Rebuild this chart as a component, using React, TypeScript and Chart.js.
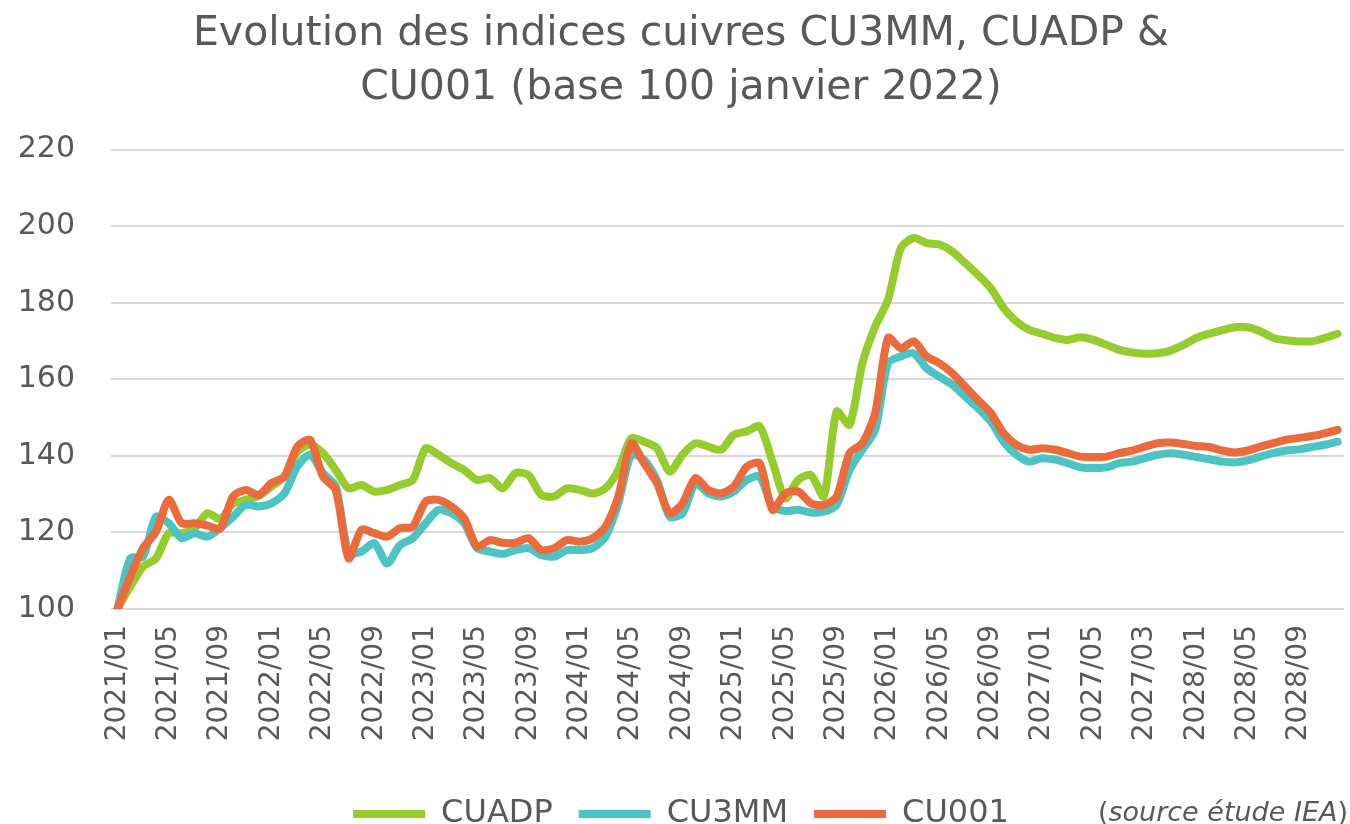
import React, { useEffect, useRef } from "react";
import { Chart, registerables } from "chart.js";

Chart.register(...registerables);

const MONTHS: string[] = [
  "2021/01", "2021/02", "2021/03", "2021/04", "2021/05", "2021/06", "2021/07", "2021/08", "2021/09", "2021/10", "2021/11", "2021/12",
  "2022/01", "2022/02", "2022/03", "2022/04", "2022/05", "2022/06", "2022/07", "2022/08", "2022/09", "2022/10", "2022/11", "2022/12",
  "2023/01", "2023/02", "2023/03", "2023/04", "2023/05", "2023/06", "2023/07", "2023/08", "2023/09", "2023/10", "2023/11", "2023/12",
  "2024/01", "2024/02", "2024/03", "2024/04", "2024/05", "2024/06", "2024/07", "2024/08", "2024/09", "2024/10", "2024/11", "2024/12",
  "2025/01", "2025/02", "2025/03", "2025/04", "2025/05", "2025/06", "2025/07", "2025/08", "2025/09", "2025/10", "2025/11", "2025/12",
  "2026/01", "2026/02", "2026/03", "2026/04", "2026/05", "2026/06", "2026/07", "2026/08", "2026/09", "2026/10", "2026/11", "2026/12",
  "2027/01", "2027/02", "2027/03", "2027/04", "2027/05", "2027/06", "2027/07", "2027/08", "2027/09", "2027/10", "2027/11", "2027/12",
  "2028/01", "2028/02", "2028/03", "2028/04", "2028/05", "2028/06", "2028/07", "2028/08", "2028/09", "2028/10", "2028/11", "2028/12",
];

// Tick labels shown every 4 months, as printed on the reference
const TICK_LABELS: string[] = [
  "2021/01", "2021/05", "2021/09", "2022/01", "2022/05", "2022/09", "2023/01", "2023/05",
  "2023/09", "2024/01", "2024/05", "2024/09", "2025/01", "2025/05", "2025/09", "2026/01",
  "2026/05", "2026/09", "2027/01", "2027/05", "2027/03", "2028/01", "2028/05", "2028/09",
];

const CUADP: number[] = [
  100, 105.8, 111.1, 113.2, 119.8, 119.8, 121.1, 125, 123.5, 127.5, 128.5, 129.5,
  132, 134.5, 141, 143, 140.7, 136.3, 131.5, 132.4, 130.7, 131.1, 132.4, 133.7,
  142, 140.3, 138.1, 136.3, 133.7, 134.2, 131.5, 135.5, 135, 129.8, 129.4, 131.5,
  131.1, 130.2, 131.5, 136.3, 144.6, 143.7, 142, 135.9, 140.3, 143.3, 142.4, 141.6,
  145.5, 146.4, 147.7, 138.5, 128.9, 133.7, 135, 129.4, 151.6, 148.1, 164.2, 173.8,
  180.8, 194.3, 196.9, 195.6, 195.2, 193.4, 190.4, 187.3, 183.8, 178.6, 175.1, 172.9,
  171.9, 170.8, 170.3, 171, 170.3, 169, 167.7, 167, 166.7, 166.8, 167.5, 169,
  170.8, 171.9, 172.8, 173.6, 173.6, 172.5, 170.8, 170.2, 169.9, 169.9, 170.8, 171.9,
];

const CU3MM: number[] = [
  100, 113.2, 113.7, 124.1, 122.4, 118.5, 119.8, 118.9, 121.1, 124.1, 127.2, 126.8,
  127.6, 130.2, 137.2, 140.3, 135.5, 132, 114.6, 115, 117.2, 111.9, 116.7, 118.5,
  122.4, 125.9, 125, 122.4, 115.9, 115, 114.4, 115.4, 115.9, 114.1, 113.7, 115.4,
  115.4, 115.9, 118.9, 127.6, 140.3, 139, 133.7, 124.1, 125, 132.9, 130.2, 129.4,
  130.7, 133.7, 134.6, 126.8, 125.6, 125.9, 125.2, 125.4, 127.2, 136.3, 141.6, 146.8,
  164.2, 166, 166.8, 162.9, 160.7, 158.6, 155.5, 152.5, 149, 143.7, 140.3, 138.5,
  139.4, 139, 138.1, 137, 136.8, 137, 138.1, 138.5, 139.4, 140.3, 140.7, 140.3,
  139.7, 139.1, 138.5, 138.3, 138.8, 139.8, 140.7, 141.4, 141.7, 142.3, 142.9, 143.7,
];

const CU001: number[] = [
  100, 108.4, 115.9, 120.2, 128.5, 122.4, 122.4, 121.8, 121, 129.4, 131.1, 129.8,
  132.9, 134.6, 142.4, 144.2, 134.6, 131.1, 113.2, 120.7, 119.8, 118.9, 121.1, 121.5,
  128.1, 128.5, 126.8, 123.7, 116.3, 118, 117.3, 117.3, 118.5, 115.4, 115.9, 118,
  117.6, 118.5, 121.5, 129.4, 143.3, 138.1, 132.9, 125, 127.6, 134.2, 131.1, 130.2,
  132, 137.2, 138.1, 125.9, 130.2, 130.7, 127.6, 127.2, 129.4, 140.7, 143.3, 151.2,
  170.8, 168.1, 169.9, 166, 164.2, 161.6, 158.1, 154.6, 151.2, 145.9, 142.9, 141.6,
  142, 141.6, 140.7, 139.8, 139.7, 139.8, 140.7, 141.4, 142.4, 143.3, 143.5, 143.1,
  142.6, 142.3, 141.4, 140.9, 141.4, 142.4, 143.3, 144.2, 144.7, 145.2, 145.9, 146.8,
];

const TITLE_LINES: string[] = ["Evolution des indices cuivres CU3MM, CUADP &", "CU001 (base 100 janvier 2022)"];
const SOURCE_TEXT = "source étude IEA";

const GREEN = "#95CC2E";
const TEAL = "#4BC4C3";
const ORANGE = "#EC6B3C";
const TEXT = "#595959";
const FONT = "'DejaVu Sans', sans-serif";

export default function App() {
  const ref = useRef<HTMLCanvasElement | null>(null);

  useEffect(() => {
    const canvas = ref.current;
    if (!canvas) return;
    const chart = new Chart(canvas, {
      type: "line",
      data: {
        labels: MONTHS,
        datasets: [
          { label: "CUADP", data: CUADP, borderColor: GREEN, backgroundColor: GREEN, order: 3 },
          { label: "CU3MM", data: CU3MM, borderColor: TEAL, backgroundColor: TEAL, order: 2 },
          { label: "CU001", data: CU001, borderColor: ORANGE, backgroundColor: ORANGE, order: 1 },
        ],
      },
      options: {
        responsive: false,
        animation: false,
        events: [],
        layout: { padding: { left: 18, right: 6, top: 0, bottom: -16 } },
        elements: {
          line: { borderWidth: 8, tension: 0.25, fill: false, borderCapStyle: "round", borderJoinStyle: "round" },
          point: { radius: 0, hoverRadius: 0 },
        },
        plugins: {
          title: {
            display: true,
            text: TITLE_LINES,
            color: TEXT,
            font: { family: FONT, size: 41, weight: "normal", lineHeight: 1.3 },
            padding: { top: 8, bottom: 35 },
          },
          legend: {
            position: "bottom",
            labels: {
              boxWidth: 72,
              boxHeight: 8,
              padding: 26,
              color: TEXT,
              font: { family: FONT, size: 32 },
              sort: (a: any, b: any) => a.datasetIndex - b.datasetIndex,
              generateLabels: (c: any) =>
                (Chart.defaults.plugins.legend.labels as any)
                  .generateLabels(c)
                  .map((l: any) => ({ ...l, lineWidth: 0, fillStyle: l.strokeStyle })),
            },
          },
          tooltip: { enabled: false },
        },
        scales: {
          x: {
            type: "category",
            offset: true,
            grid: { display: false, drawTicks: false },
            border: { display: false },
            ticks: {
              autoSkip: false,
              minRotation: 90,
              maxRotation: 90,
              padding: 16,
              color: TEXT,
              font: { family: FONT, size: 28 },
              callback: (_v: any, i: number) => (i % 4 === 0 ? TICK_LABELS[i / 4] : ""),
            },
            afterFit: (s: any) => {
              s.height = 163;
              s.paddingLeft = 0;
              s.paddingRight = 0;
            },
          },
          y: {
            min: 100,
            max: 220,
            ticks: { stepSize: 20, padding: 36, color: TEXT, font: { family: FONT, size: 30 } },
            grid: { color: "#D9D9D9", lineWidth: 2, drawTicks: false },
            border: { display: false },
            afterFit: (s: any) => {
              s.width = 93;
            },
          },
        },
      },
    } as any);
    return () => chart.destroy();
  }, []);

  return (
    <div style={{ position: "fixed", left: 0, top: 0, width: 1350, height: 824, background: "#fff", overflow: "hidden" }}>
      <canvas ref={ref} width={1350} height={824} style={{ display: "block", width: 1350, height: 824 }} />
      <div
        style={{
          position: "absolute",
          right: 2,
          top: 798,
          fontFamily: FONT,
          fontSize: 27,
          lineHeight: "28px",
          color: TEXT,
          whiteSpace: "nowrap",
        }}
      >
        (<i>{SOURCE_TEXT}</i>)
      </div>
    </div>
  );
}
